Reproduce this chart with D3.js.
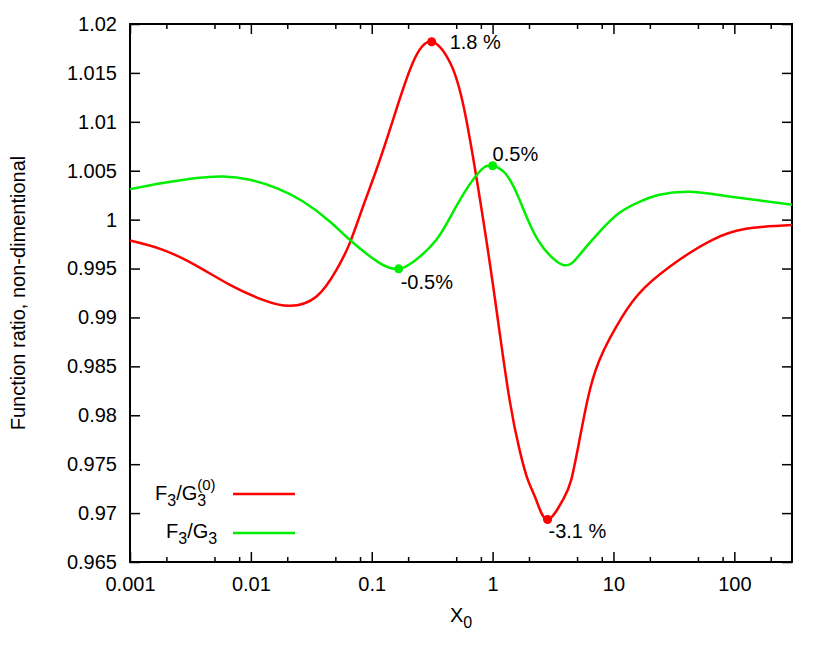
<!DOCTYPE html>
<html>
<head>
<meta charset="utf-8">
<script src="https://cdn.jsdelivr.net/npm/d3@7"></script>
<style>
  body { margin: 0; background: #fff; }
  svg { font-family: "Liberation Sans", Arial, Helvetica, sans-serif; }
</style>
</head>
<body>
<svg id="chart"></svg>
<script>
// F3/G3^(0) curve
const redX = [0.001, 0.001874, 0.003558, 0.00671, 0.01257, 0.02101, 0.03491, 0.05108, 0.06578, 0.08473, 0.1093, 0.15, 0.2182, 0.3132, 0.4496, 0.6062, 0.8868, 1.106, 1.382, 1.671, 1.957, 2.297, 2.848, 3.811, 4.471, 5.236, 6.097, 7.66, 11.65, 18.04, 35.12, 66, 125, 300];
const redY = [0.99786, 0.99691, 0.99528, 0.99333, 0.99180, 0.99119, 0.99214, 0.99487, 0.99760, 1.00134, 1.00510, 1.01021, 1.01601, 1.01819, 1.01594, 1.01021, 0.99794, 0.98975, 0.98157, 0.97646, 0.97339, 0.97134, 0.96935, 0.97134, 0.97339, 0.97748, 0.98157, 0.98566, 0.98996, 0.99303, 0.99589, 0.99794, 0.99906, 0.99944];

// F3/G3 curve
const greenX = [0.001, 0.001874, 0.003558, 0.0059, 0.00981, 0.01631, 0.02705, 0.04497, 0.06578, 0.1164, 0.1671, 0.2195, 0.3424, 0.5137, 0.781, 1.0, 1.281, 1.671, 2.368, 3.811, 5.236, 7.66, 11.21, 16.4, 24.0, 42.5, 90.9, 300];
const greenY = [1.00312, 1.00374, 1.00425, 1.00441, 1.00407, 1.00322, 1.00185, 0.99981, 0.99794, 0.99556, 0.99497, 0.99568, 0.99794, 1.00162, 1.00492, 1.00551, 1.00469, 1.00203, 0.99794, 0.99538, 0.99640, 0.99875, 1.00070, 1.00182, 1.00254, 1.00285, 1.00237, 1.00152];

// marked extrema
const markX = [0.3132, 2.848, 0.1671, 1.0];
const markY = [1.01819, 0.96935, 0.99497, 1.00551];
const markLabel = ["1.8 %", "-3.1 %", "-0.5%", "0.5%"];
const markSeries = ["red", "red", "green", "green"];

const xMajor = [0.001, 0.01, 0.1, 1, 10, 100];
const xMinor = [0.002, 0.005, 0.008, 0.02, 0.05, 0.08, 0.2, 0.5, 0.8, 2, 5, 8, 20, 50, 80, 200];
const xLabels = ["0.001", "0.01", "0.1", "1", "10", "100"];
const yTicks = [0.965, 0.97, 0.975, 0.98, 0.985, 0.99, 0.995, 1, 1.005, 1.01, 1.015, 1.02];

const W = 830, H = 653;
const margin = { top: 24, right: 38, bottom: 91, left: 130 },
    width = W - margin.left - margin.right,
    height = H - margin.top - margin.bottom;

const colors = { red: "#ff0000", green: "#00ee00" };
const fs = 20;

const root = d3.select("#chart").attr("width", W).attr("height", H);
const svg = root.append("g").attr("transform", `translate(${margin.left}, ${margin.top})`);

const x = d3.scaleLog().domain([0.001, 300]).range([0, width]);
const y = d3.scaleLinear().domain([0.965, 1.02]).range([height, 0]);

function styleAxis(g) {
    g.select(".domain").remove();
    g.selectAll("line").attr("stroke", "#000").attr("stroke-width", 1.5);
    g.selectAll("text").attr("font-size", fs).attr("fill", "#000")
        .attr("font-family", "Liberation Sans, Arial, sans-serif");
}

// bottom axis
svg.append("g").attr("transform", `translate(0, ${height})`)
    .call(d3.axisBottom(x).tickValues(xMajor).tickSize(-10).tickPadding(15)
        .tickFormat((d, i) => xLabels[i]))
    .call(styleAxis);
svg.append("g").attr("transform", `translate(0, ${height})`)
    .call(d3.axisBottom(x).tickValues(xMinor).tickSize(-5).tickFormat(""))
    .call(styleAxis);
// top axis (mirror)
svg.append("g")
    .call(d3.axisTop(x).tickValues(xMajor).tickSize(-10).tickFormat(""))
    .call(styleAxis);
svg.append("g")
    .call(d3.axisTop(x).tickValues(xMinor).tickSize(-5).tickFormat(""))
    .call(styleAxis);
// left axis
svg.append("g")
    .call(d3.axisLeft(y).tickValues(yTicks).tickSize(-10).tickPadding(13)
        .tickFormat(d3.format("")))
    .call(styleAxis);
// right axis (mirror)
svg.append("g").attr("transform", `translate(${width}, 0)`)
    .call(d3.axisRight(y).tickValues(yTicks).tickSize(-10).tickFormat(""))
    .call(styleAxis);

// frame
svg.append("rect")
    .attr("x", 0).attr("y", 0).attr("width", width).attr("height", height)
    .attr("fill", "none").attr("stroke", "#000").attr("stroke-width", 2);

// curves
const line = d3.line()
    .x(d => x(d[0]))
    .y(d => y(d[1]))
    .curve(d3.curveNatural);

const series = [
    { key: "red", data: d3.zip(redX, redY) },
    { key: "green", data: d3.zip(greenX, greenY) }
];

svg.selectAll(".curve")
    .data(series)
    .enter()
    .append("path")
    .attr("class", "curve")
    .attr("d", d => line(d.data))
    .attr("fill", "none")
    .attr("stroke", d => colors[d.key])
    .attr("stroke-width", 2.5);

// extrema markers and labels
const marks = markX.map((v, i) => ({ x: v, y: markY[i], label: markLabel[i], key: markSeries[i] }));
const labelOffset = [[18, 7], [1, 19], [2, 20], [0, -5]];

svg.selectAll(".mark")
    .data(marks)
    .enter()
    .append("circle")
    .attr("cx", d => x(d.x))
    .attr("cy", d => y(d.y))
    .attr("r", 4.5)
    .attr("fill", d => colors[d.key]);

svg.selectAll(".marklabel")
    .data(marks)
    .enter()
    .append("text")
    .attr("x", (d, i) => x(d.x) + labelOffset[i][0])
    .attr("y", (d, i) => y(d.y) + labelOffset[i][1])
    .attr("font-size", fs)
    .text(d => d.label);

// legend
const legend = svg.append("g");
function legendEntry(xStart, yBase, lineY, sup, color) {
    const t = legend.append("text").attr("x", xStart).attr("y", yBase).attr("font-size", fs);
    t.append("tspan").text("F");
    t.append("tspan").attr("font-size", fs * 0.8).attr("dy", 6).text("3");
    t.append("tspan").attr("dy", -6).text("/G");
    const w = t.node().getComputedTextLength();
    legend.append("text").attr("x", xStart + w).attr("y", yBase + 6)
        .attr("font-size", fs * 0.8).text("3");
    if (sup) {
        legend.append("text").attr("x", xStart + w).attr("y", yBase - 10)
            .attr("font-size", fs * 0.75).text(sup);
    }
    legend.append("line")
        .attr("x1", 103).attr("x2", 165)
        .attr("y1", lineY).attr("y2", lineY)
        .attr("stroke", color).attr("stroke-width", 2.5);
}
legendEntry(25, 476, 470, "(0)", colors.red);
legendEntry(36, 514, 509, null, colors.green);

// axis titles
const xt = svg.append("text")
    .attr("x", width / 2)
    .attr("y", height + 60)
    .attr("text-anchor", "middle")
    .attr("font-size", fs);
xt.append("tspan").text("X");
xt.append("tspan").attr("font-size", fs * 0.8).attr("dy", 6).text("0");

svg.append("text")
    .attr("transform", `translate(${-105}, ${height / 2}) rotate(-90)`)
    .attr("text-anchor", "middle")
    .attr("font-size", fs)
    .text("Function ratio, non-dimentional");
</script>
</body>
</html>
